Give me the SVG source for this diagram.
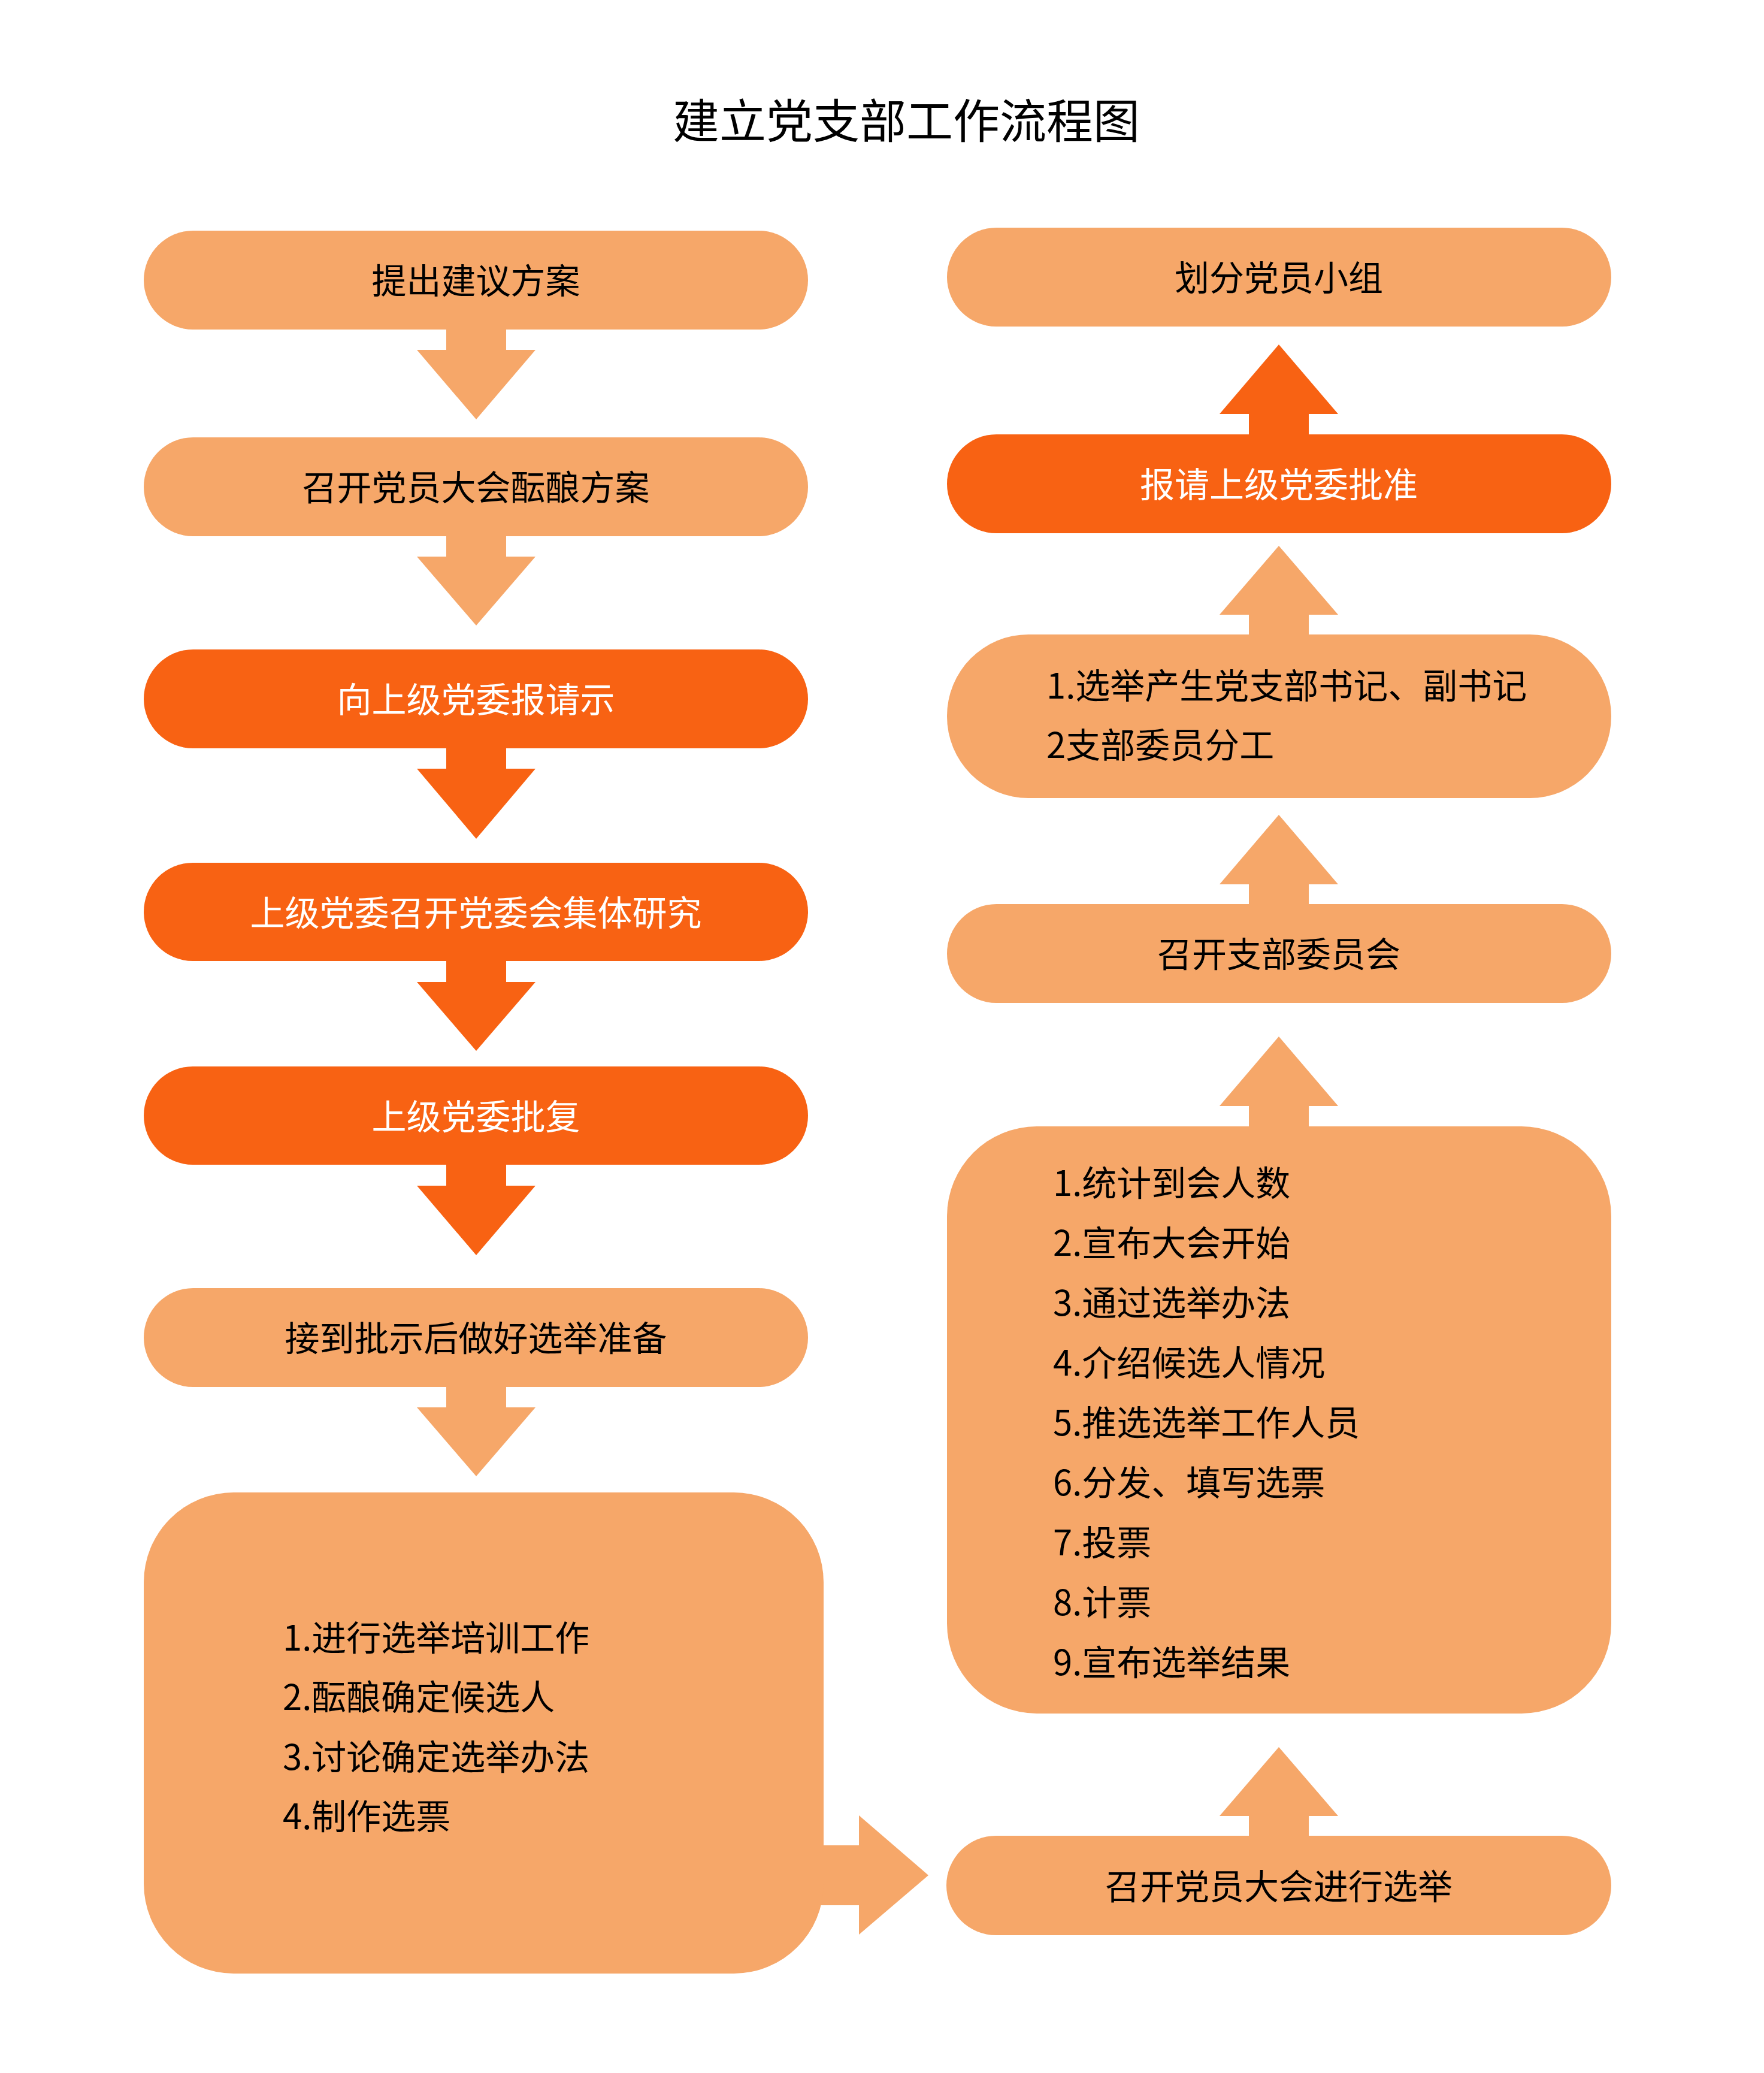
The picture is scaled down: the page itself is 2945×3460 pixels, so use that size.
<svg xmlns="http://www.w3.org/2000/svg" width="2945" height="3460" viewBox="0 0 2945 3460">
<style>
.light{fill:#F6A769}
.dark{fill:#F86213}
text{font-family:"Noto Sans CJK SC","Noto Sans",sans-serif;font-size:58px}
.c{text-anchor:middle}
.b{fill:#000}
.w{fill:#fff}
.title{font-size:78px;fill:#000;text-anchor:middle}
</style>
<rect width="2945" height="3460" fill="#fff"/>
<text class="title" x="1513" y="231">建立党支部工作流程图</text>

<g id="connectors">
<path class="light" d="M745,546 H845 V584 H894 L795,700 L696,584 H745 Z"/>
<path class="light" d="M745,891 H845 V929 H894 L795,1044 L696,929 H745 Z"/>
<path class="dark" d="M745,1245 H845 V1283 H894 L795,1400 L696,1283 H745 Z"/>
<path class="dark" d="M745,1600 H845 V1639 H894 L795,1754 L696,1639 H745 Z"/>
<path class="dark" d="M745,1940 H845 V1979 H894 L795,2095 L696,1979 H745 Z"/>
<path class="light" d="M745,2311 H845 V2349 H894 L795,2464 L696,2349 H745 Z"/>
<path class="light" d="M1368,3080 H1434 V3030 L1550,3130 L1434,3229 V3180 H1368 Z"/>
<path class="light" d="M2085,3068 V3031 H2036 L2135,2916 L2234,3031 H2185 V3068 Z"/>
<path class="light" d="M2085,1884 V1846 H2036 L2135,1730 L2234,1846 H2185 V1884 Z"/>
<path class="light" d="M2085,1513 V1476 H2036 L2135,1360 L2234,1476 H2185 V1513 Z"/>
<path class="light" d="M2085,1063 V1026 H2036 L2135,911 L2234,1026 H2185 V1063 Z"/>
<path class="dark" d="M2085,729 V691 H2036 L2135,575 L2234,691 H2185 V729 Z"/>
</g>

<g id="n1">
<rect class="light" x="240" y="385" width="1109" height="165" rx="82.5"/>
<text class="c b" x="794.5" y="490">提出建议方案</text>
</g>
<g id="n2">
<rect class="light" x="240" y="730" width="1109" height="165" rx="82.5"/>
<text class="c b" x="794.5" y="835">召开党员大会酝酿方案</text>
</g>
<g id="n3">
<rect class="dark" x="240" y="1084" width="1109" height="165" rx="82.5"/>
<text class="c w" x="794.5" y="1189">向上级党委报请示</text>
</g>
<g id="n4">
<rect class="dark" x="240" y="1440" width="1109" height="164" rx="82"/>
<text class="c w" x="794.5" y="1545">上级党委召开党委会集体研究</text>
</g>
<g id="n5">
<rect class="dark" x="240" y="1780" width="1109" height="164" rx="82"/>
<text class="c w" x="794.5" y="1885">上级党委批复</text>
</g>
<g id="n6">
<rect class="light" x="240" y="2150" width="1109" height="165" rx="82.5"/>
<text class="c b" x="794.5" y="2255">接到批示后做好选举准备</text>
</g>
<g id="n7">
<rect class="light" x="240" y="2491" width="1135" height="803" rx="150"/>
<text class="b" x="472" y="2755">1.进行选举培训工作</text>
<text class="b" x="472" y="2854">2.酝酿确定候选人</text>
<text class="b" x="472" y="2954">3.讨论确定选举办法</text>
<text class="b" x="472" y="3053">4.制作选票</text>
</g>
<g id="n8">
<rect class="light" x="1580" y="3064" width="1110" height="166" rx="83"/>
<text class="c b" x="2135" y="3170">召开党员大会进行选举</text>
</g>
<g id="n9">
<rect class="light" x="1581" y="1880" width="1109" height="980" rx="150"/>
<text class="b" x="1758" y="1996">1.统计到会人数</text>
<text class="b" x="1758" y="2096">2.宣布大会开始</text>
<text class="b" x="1758" y="2196">3.通过选举办法</text>
<text class="b" x="1758" y="2296">4.介绍候选人情况</text>
<text class="b" x="1758" y="2396">5.推选选举工作人员</text>
<text class="b" x="1758" y="2496">6.分发、填写选票</text>
<text class="b" x="1758" y="2596">7.投票</text>
<text class="b" x="1758" y="2696">8.计票</text>
<text class="b" x="1758" y="2796">9.宣布选举结果</text>
</g>
<g id="n10">
<rect class="light" x="1581" y="1509" width="1109" height="165" rx="82.5"/>
<text class="c b" x="2135" y="1614">召开支部委员会</text>
</g>
<g id="n11">
<rect class="light" x="1581" y="1059" width="1109" height="273" rx="136"/>
<text class="b" x="1747" y="1166">1.选举产生党支部书记、副书记</text>
<text class="b" x="1747" y="1265">2支部委员分工</text>
</g>
<g id="n12">
<rect class="dark" x="1581" y="725" width="1109" height="165" rx="82.5"/>
<text class="c w" x="2135" y="830">报请上级党委批准</text>
</g>
<g id="n13">
<rect class="light" x="1581" y="380" width="1109" height="165" rx="82.5"/>
<text class="c b" x="2135" y="485">划分党员小组</text>
</g>
</svg>
